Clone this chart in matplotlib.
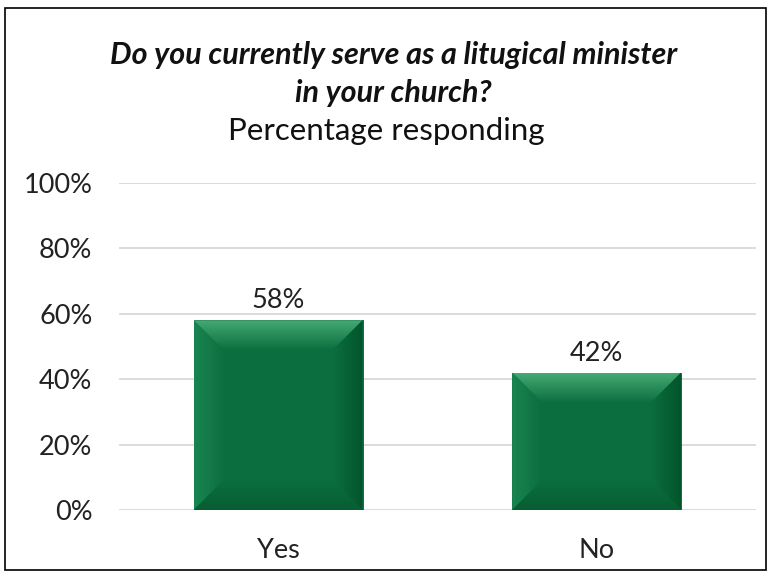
import matplotlib
matplotlib.use('Agg')
import matplotlib.pyplot as plt
import matplotlib.patches as patches
from matplotlib.colors import LinearSegmentedColormap
import numpy as np

# data
categories = ['Yes', 'No']
values = [58, 42]
yticks = [0, 20, 40, 60, 80, 100]
title1 = 'Do you currently serve as a litugical minister'
title2 = 'in your church?'
subtitle = 'Percentage responding'

plt.rcParams['font.family'] = ['Lato', 'DejaVu Sans']

fig = plt.figure(figsize=(7.72, 5.76), dpi=100)
ax = fig.add_axes([0.154, 0.1146, 0.825, 0.5677])

x = np.arange(len(categories))
width = 0.53
ax.set_xlim(-0.5, len(categories) - 0.5)
ax.set_ylim(0, 100)

base = '#0b6e3f'
bars = ax.bar(x, values, width=width, color=base, edgecolor='#0a5c34', linewidth=0.6, zorder=3)

# bevel effect, bevel size given in pixels
bev_px = 30
inv = ax.transData.inverted()
p0 = inv.transform((0, 0))
p1 = inv.transform((bev_px, bev_px))
bx = p1[0] - p0[0]
by = p1[1] - p0[1]

def grad_fill(poly, c_edge, c_inner, direction, ext):
    cmap = LinearSegmentedColormap.from_list('g', [c_edge, c_inner])
    g = np.linspace(0, 1, 64)
    if direction == 'top':
        img = g[:, None]
    elif direction == 'bottom':
        img = g[::-1][:, None]
    elif direction == 'left':
        img = g[None, :]
    else:
        img = g[::-1][None, :]
    im = ax.imshow(img, cmap=cmap, extent=ext, origin='upper', aspect='auto',
                   interpolation='bilinear', zorder=4)
    patch = patches.Polygon(poly, closed=True, transform=ax.transData,
                            facecolor='none', edgecolor='none')
    ax.add_patch(patch)
    im.set_clip_path(patch)

for b in bars:
    l = b.get_x()
    r = l + b.get_width()
    t = b.get_height()
    bt = 0
    # top
    grad_fill([(l, t), (r, t), (r - bx, t - by), (l + bx, t - by)],
              '#45a974', base, 'top', (l, r, t - by, t))
    # left
    grad_fill([(l, t), (l + bx, t - by), (l + bx, bt + by), (l, bt)],
              '#1a8550', base, 'left', (l, l + bx, bt, t))
    # right
    grad_fill([(r, t), (r - bx, t - by), (r - bx, bt + by), (r, bt)],
              '#03552b', base, 'right', (r - bx, r, bt, t))
    # bottom
    grad_fill([(l, bt), (r, bt), (r - bx, bt + by), (l + bx, bt + by)],
              '#075e31', base, 'bottom', (l, r, bt, bt + by))

ax.set_xlim(-0.5, len(categories) - 0.5)
ax.set_ylim(0, 100)

for xi, v in zip(x, values):
    ax.annotate('{}%'.format(v), xy=(xi, v), xytext=(0, 5), textcoords='offset points',
                ha='center', va='bottom', fontsize=19.5, color='#222222', zorder=5)

ax.set_xticks(x)
ax.set_xticklabels(categories, fontsize=19.5, color='#222222')
ax.set_yticks(yticks)
ax.set_yticklabels(['{}%'.format(t) for t in yticks], fontsize=19.5, color='#222222')
ax.tick_params(axis='both', length=0)
ax.tick_params(axis='y', pad=19)
ax.tick_params(axis='x', pad=20)
ax.grid(axis='y', color='#d9d9d9', linewidth=1.3, zorder=0)
ax.set_axisbelow(True)
for s in ax.spines.values():
    s.set_visible(False)

fig.text(0.51, 0.904, title1, ha='center', va='center', fontsize=22,
         fontweight='bold', fontstyle='italic', color='#111111')
fig.text(0.51, 0.838, title2, ha='center', va='center', fontsize=22,
         fontweight='bold', fontstyle='italic', color='#111111')
fig.text(0.5, 0.772, subtitle, ha='center', va='center', fontsize=22.5, color='#111111')

border = patches.Rectangle((0.007, 0.010), 0.985, 0.976, transform=fig.transFigure,
                           fill=False, edgecolor='black', linewidth=1.2)
fig.patches.append(border)

fig.savefig('out.png', dpi=100)
